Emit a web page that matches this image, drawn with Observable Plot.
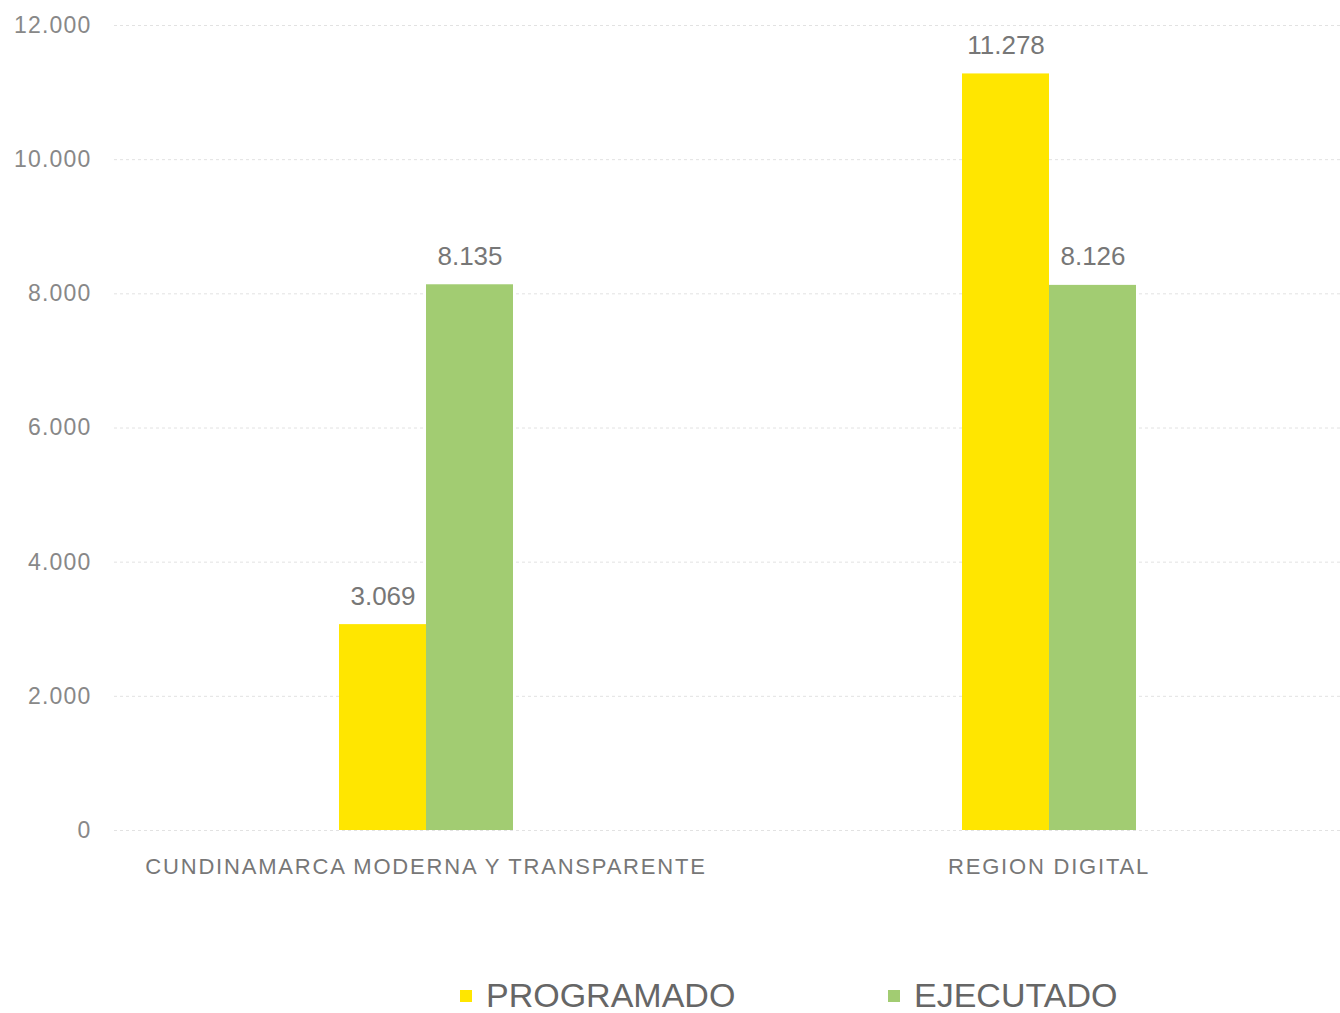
<!DOCTYPE html>
<html>
<head>
<meta charset="utf-8">
<script src="https://cdn.jsdelivr.net/npm/d3@7"></script>
<script src="https://cdn.jsdelivr.net/npm/@observablehq/plot@0.6"></script>
<style>
  html, body { margin: 0; padding: 0; background: #fff; }
  body { width: 1340px; font-family: "Liberation Sans", Arial, sans-serif; }
  #legend { font-size: 34px; color: #666; }
  .item { display: flex; align-items: center; position: absolute; }
  .sw { width: 12px; height: 12px; margin-right: 14px; }
</style>
</head>
<body>
<div id="chart"></div>
<div id="legend"></div>
<script>
const categories = ["CUNDINAMARCA MODERNA Y TRANSPARENTE", "REGION DIGITAL"];
const series = ["PROGRAMADO", "EJECUTADO"];
const programado = [3069, 11278];
const ejecutado = [8135, 8126];
const yTicks = [0, 2000, 4000, 6000, 8000, 10000, 12000];
const colors = ["#FFE600", "#A2CC72"];

const data = [];
categories.forEach((c, i) => {
  data.push({cat: c, serie: series[0], value: programado[i]});
  data.push({cat: c, serie: series[1], value: ejecutado[i]});
});

const fmt = d3.formatLocale({decimal: ",", thousands: ".", grouping: [3], currency: ["", ""]}).format(",d");

const chart = Plot.plot({
  width: 1340,
  height: 900,
  marginLeft: 113,
  marginRight: 0,
  marginTop: 25,
  marginBottom: 70,
  style: {fontFamily: "Liberation Sans, Arial, sans-serif", color: "#777", background: "#fff"},
  fx: {domain: categories, range: [113, 1360], padding: 0, label: null},
  x: {domain: series, paddingInner: 0, paddingOuter: 2.5426, axis: null},
  y: {domain: [0, 12000], ticks: yTicks, label: null},
  color: {domain: series, range: colors},
  marks: [
    Plot.ruleY(yTicks, {stroke: "#e2e2e2", strokeDasharray: "3,3", strokeWidth: 1}),
    Plot.barY(data, {fx: "cat", x: "serie", y: "value", fill: "serie", inset: 0}),
    Plot.text(data, {fx: "cat", x: "serie", y: "value", text: d => fmt(d.value), dy: -20, lineAnchor: "bottom", fontSize: 26, fill: "#777", style: "letter-spacing:2px"}),
    Plot.axisY({ticks: yTicks, tickFormat: fmt, tickSize: 0, tickPadding: 23, fontSize: 23, fill: "#888", label: null}),
    Plot.axisFx({anchor: "bottom", tickSize: 0, tickPadding: 28, fontSize: 22, fill: "#777", label: null})
  ]
});
d3.select(chart).selectAll("[aria-label='fx-axis tick label'] text").style("letter-spacing", "1.8px");
d3.select(chart).selectAll("[aria-label='y-axis tick label'] text").style("letter-spacing", "1.2px");
document.getElementById("chart").appendChild(chart);

const legend = document.getElementById("legend");
const lx = [460, 888];
series.forEach((s, i) => {
  const it = document.createElement("div");
  it.className = "item";
  it.style.left = lx[i] + "px";
  it.style.top = "976px";
  it.innerHTML = `<div class="sw" style="background:${colors[i]}"></div><span>${s}</span>`;
  legend.appendChild(it);
});
</script>
</body>
</html>
